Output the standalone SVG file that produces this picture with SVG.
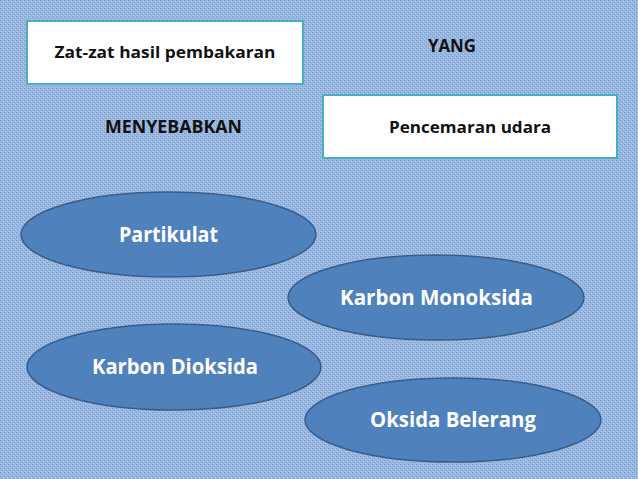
<svg xmlns="http://www.w3.org/2000/svg" width="638" height="479" viewBox="0 0 638 479">
<defs>
<pattern id="tex" width="4" height="4" patternUnits="userSpaceOnUse">
<rect width="4" height="4" fill="#98b7e0"/>
<rect x="0" y="0" width="1" height="1" fill="#7d9ccb"/>
<rect x="2" y="2" width="1" height="1" fill="#7d9ccb"/>
<rect x="1" y="3" width="1" height="1" fill="#b3cbeb"/>
<rect x="3" y="1" width="1" height="1" fill="#b3cbeb"/>
</pattern>
</defs>
<style>
.box{fill:#ffffff;stroke:#4bacc6;stroke-width:2}
.ell{fill:#4f81bd;stroke:#385d8a;stroke-width:1.5}
.dk{font-family:"Open Sans","Noto Sans",sans-serif;font-weight:700;fill:#111111;text-anchor:middle}
.wt{font-family:"Open Sans","Noto Sans",sans-serif;font-weight:700;fill:#ffffff;text-anchor:middle}
</style>
<rect width="638" height="479" fill="url(#tex)"/>
<g id="node-zat">
<rect class="box" x="27" y="21" width="276" height="63"/>
<text class="dk" x="165" y="58" font-size="15.5" textLength="221" lengthAdjust="spacingAndGlyphs">Zat-zat hasil pembakaran</text>
</g>
<g id="node-yang">
<text class="dk" x="452" y="52" font-size="17" textLength="48" lengthAdjust="spacingAndGlyphs">YANG</text>
</g>
<g id="node-menyebabkan">
<text class="dk" x="173.5" y="133" font-size="17" textLength="137" lengthAdjust="spacingAndGlyphs">MENYEBABKAN</text>
</g>
<g id="node-pencemaran">
<rect class="box" x="323" y="95" width="294" height="63"/>
<text class="dk" x="470" y="133" font-size="16" textLength="162" lengthAdjust="spacingAndGlyphs">Pencemaran udara</text>
</g>
<g id="node-partikulat">
<ellipse class="ell" cx="168.5" cy="234.5" rx="147.5" ry="42.5"/>
<text class="wt" x="168.5" y="242" font-size="20.5" textLength="99" lengthAdjust="spacingAndGlyphs">Partikulat</text>
</g>
<g id="node-monoksida">
<ellipse class="ell" cx="436" cy="297.5" rx="148" ry="42.5"/>
<text class="wt" x="436.5" y="305" font-size="20.5" textLength="193" lengthAdjust="spacingAndGlyphs">Karbon Monoksida</text>
</g>
<g id="node-dioksida">
<ellipse class="ell" cx="174" cy="367" rx="147" ry="43"/>
<text class="wt" x="175" y="374" font-size="20.5" textLength="166" lengthAdjust="spacingAndGlyphs">Karbon Dioksida</text>
</g>
<g id="node-belerang">
<ellipse class="ell" cx="453" cy="420" rx="148" ry="42"/>
<text class="wt" x="453" y="427" font-size="20.5" textLength="166" lengthAdjust="spacingAndGlyphs">Oksida Belerang</text>
</g>
<g id="connectors"></g>
</svg>
